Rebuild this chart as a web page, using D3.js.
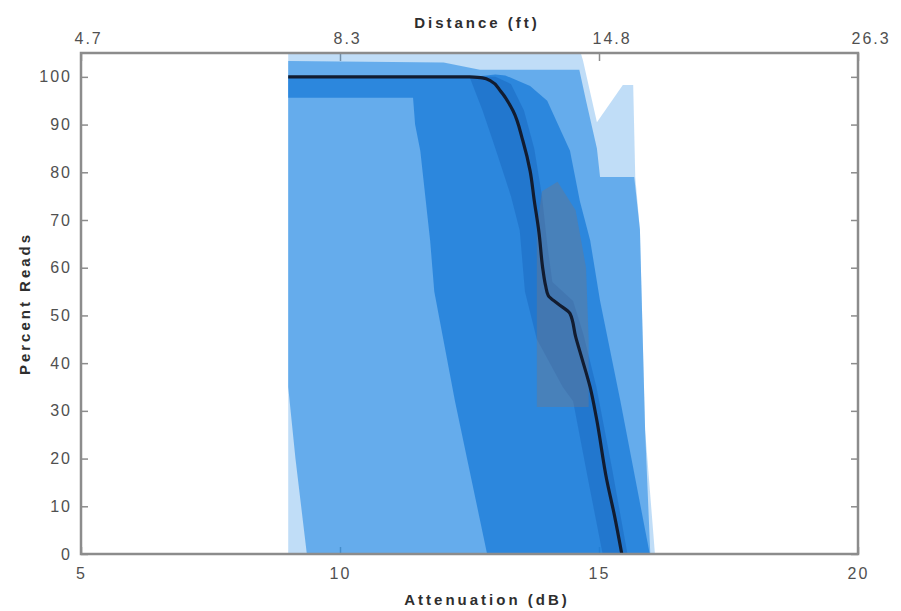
<!DOCTYPE html>
<html>
<head>
<meta charset="utf-8">
<script src="https://cdn.jsdelivr.net/npm/d3@7"></script>
<style>
  html, body { margin: 0; padding: 0; background: #ffffff; }
  svg { display: block; font-family: "Liberation Sans", Arial, Helvetica, sans-serif; }
</style>
</head>
<body>
<svg id="chart" width="901" height="611"></svg>
<script>
// Axis ticks
const attenuationTicks = [5, 10, 15, 20];
const distanceTickLabels = ["4.7", "8.3", "14.8", "26.3"];
const percentTicks = [0, 10, 20, 30, 40, 50, 60, 70, 80, 90, 100];

// Spread bands, each as an upper and a lower edge of [attenuation (dB), percent reads]
const outerUpper = [[9.0, 106], [14.62, 106], [14.69, 103.5], [14.96, 90.5], [15.46, 98.3],
  [15.66, 98.3], [15.70, 79], [15.79, 68], [15.89, 26], [16.08, 0]];
const outerLower = [[9.0, 0], [16.08, 0]];

const wideUpper = [[9.0, 103.3], [12.0, 103], [12.7, 101.5], [14.62, 101.5], [14.75, 95],
  [14.96, 85], [15.02, 79], [15.68, 79], [15.79, 68], [15.89, 26], [15.99, 0]];
const wideLower = [[9.0, 35], [9.14, 20], [9.36, 0], [15.99, 0]];

const midUpper = [[9.0, 100], [12.6, 100], [13.0, 100.5], [13.19, 100.3], [13.67, 98.1],
  [14.0, 95], [14.44, 84.5], [14.63, 74], [14.83, 65.7], [15.02, 53.1], [15.41, 32.2], [15.98, 0]];
const midLower = [[9.0, 95.6], [11.41, 95.6], [11.45, 90], [11.55, 84.5], [11.74, 65.7],
  [11.82, 55], [12.22, 32], [12.84, 0], [15.98, 0]];

const innerUpper = [[12.5, 100], [13.0, 100], [13.3, 98.5], [13.55, 93], [13.75, 85], [13.9, 75],
  [14.0, 65], [14.1, 57], [14.5, 53], [14.7, 46], [14.95, 35], [15.25, 18], [15.55, 0]];
const innerLower = [[12.5, 100], [12.75, 93], [13.0, 85], [13.3, 75], [13.47, 67.8], [13.57, 55],
  [13.8, 45], [14.3, 35], [14.5, 32], [14.8, 15], [15.07, 0], [15.55, 0]];

const coreUpper = [[13.80, 68], [13.9, 76], [14.2, 78], [14.55, 72], [14.75, 60],
  [14.8, 45], [14.8, 30.8]];
const coreLower = [[13.80, 30.8], [14.8, 30.8]];

// Median percent reads
const medianReads = [[9.0, 100], [12.5, 100], [12.75, 99.8], [12.9, 99.2], [13.1, 97.0],
  [13.34, 92.9], [13.53, 86.6], [13.67, 80.3], [13.75, 74.1], [13.84, 67.5], [13.92, 59.4],
  [13.97, 56.2], [14.02, 54.2], [14.2, 52.5], [14.44, 50.4], [14.55, 45.5], [14.67, 41.0],
  [14.83, 34.9], [14.95, 28.5], [15.15, 15.5], [15.3, 8], [15.44, 0]];

const W = 901, H = 611;
const margin = { top: 53, right: 43, bottom: 57, left: 81 };

const svg = d3.select("#chart");
const x = d3.scaleLinear().domain([5, 20]).range([margin.left, W - margin.right]);
const y = d3.scaleLinear().domain([0, 105]).range([H - margin.bottom, margin.top]);

const axisColor = "#8c8c8c";
const labelColor = "#505050";

// Ticks sit underneath the filled bands
function styleAxis(g) {
  g.select(".domain").remove();
  g.selectAll(".tick line").attr("stroke", axisColor).attr("stroke-width", 1.5);
  g.selectAll(".tick text")
    .attr("fill", labelColor)
    .style("font-size", "16px")
    .style("letter-spacing", "2px");
}

svg.append("g")
  .attr("transform", `translate(0,${H - margin.bottom})`)
  .call(d3.axisBottom(x).tickValues(attenuationTicks).tickSize(-7).tickSizeOuter(0)
    .tickPadding(14).tickFormat(d3.format("d")))
  .call(styleAxis);

svg.append("g")
  .attr("transform", `translate(0,${margin.top})`)
  .call(d3.axisTop(x).tickValues(attenuationTicks).tickSize(-8).tickSizeOuter(0)
    .tickPadding(9).tickFormat((d, i) => distanceTickLabels[i]))
  .call(styleAxis)
  .call(g => g.selectAll(".tick text").attr("text-anchor", "start").attr("dx", -7));

svg.append("g")
  .attr("transform", `translate(${margin.left},0)`)
  .call(d3.axisLeft(y).tickValues(percentTicks).tickSize(-7).tickSizeOuter(0)
    .tickPadding(9).tickFormat(d3.format("d")))
  .call(styleAxis);

svg.append("g")
  .attr("transform", `translate(${W - margin.right},0)`)
  .call(d3.axisRight(y).tickValues(percentTicks).tickSize(-7).tickSizeOuter(0)
    .tickFormat(""))
  .call(styleAxis);

// Plot clip
svg.append("clipPath").attr("id", "plot-clip")
  .append("rect")
  .attr("x", margin.left).attr("y", margin.top)
  .attr("width", W - margin.left - margin.right)
  .attr("height", H - margin.top - margin.bottom);

const plot = svg.append("g").attr("clip-path", "url(#plot-clip)");

const bands = [
  { upper: outerUpper, lower: outerLower, fill: "rgb(60,150,230)", opacity: 0.32 },
  { upper: wideUpper,  lower: wideLower,  fill: "rgb(40,140,228)", opacity: 0.60 },
  { upper: midUpper,   lower: midLower,   fill: "rgb(20,120,215)", opacity: 0.70 },
  { upper: innerUpper, lower: innerLower, fill: "rgb(10,80,170)",  opacity: 0.28 },
  { upper: coreUpper,  lower: coreLower,  fill: "rgb(115,120,135)", opacity: 0.40 }
];

const edge = d3.line().x(d => x(d[0])).y(d => y(d[1]));

plot.selectAll("path.band")
  .data(bands)
  .join("path")
  .attr("class", "band")
  .attr("d", b => edge(b.upper.concat(b.lower.slice().reverse())) + "Z")
  .attr("fill", b => b.fill)
  .attr("fill-opacity", b => b.opacity)
  .attr("stroke", "none");

plot.append("path")
  .datum(medianReads)
  .attr("d", d3.line().x(d => x(d[0])).y(d => y(d[1])).curve(d3.curveMonotoneY))
  .attr("fill", "none")
  .attr("stroke", "#121c30")
  .attr("stroke-width", 3.2)
  .attr("stroke-linejoin", "round");

// Axes box on top
svg.append("rect")
  .attr("x", margin.left).attr("y", margin.top)
  .attr("width", W - margin.left - margin.right)
  .attr("height", H - margin.top - margin.bottom)
  .attr("fill", "none")
  .attr("stroke", axisColor)
  .attr("stroke-width", 2.5);

// Axis titles
const titleStyle = sel => sel
  .attr("fill", "#2e2e2e")
  .style("font-size", "15px")
  .style("font-weight", "bold")
  .style("letter-spacing", "3px")
  .attr("text-anchor", "middle");

svg.append("text")
  .attr("x", 477).attr("y", 28)
  .text("Distance (ft)")
  .call(titleStyle);

svg.append("text")
  .attr("x", 487).attr("y", 605)
  .text("Attenuation (dB)")
  .call(titleStyle);

svg.append("text")
  .attr("transform", `translate(30,${(margin.top + H - margin.bottom) / 2}) rotate(-90)`)
  .text("Percent Reads")
  .call(titleStyle);
</script>
</body>
</html>
